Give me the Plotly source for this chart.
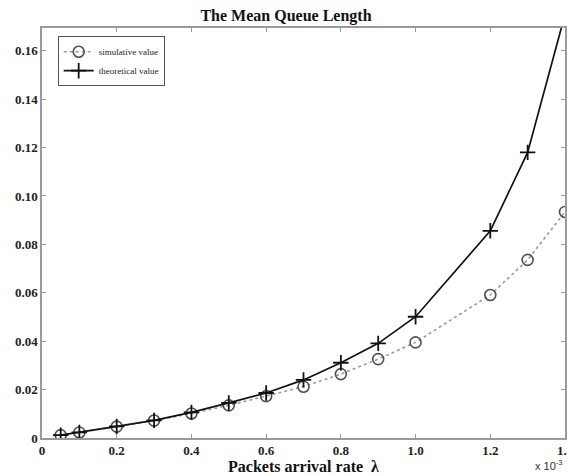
import plotly.graph_objects as go

# Data (arrival rate in units of 1e-3)
rate = [0.05, 0.1, 0.2, 0.3, 0.4, 0.5, 0.6, 0.7, 0.8, 0.9, 1.0, 1.2, 1.3, 1.4]
simulative = [0.0012, 0.0023, 0.0047, 0.0072, 0.0101, 0.0135, 0.0173, 0.0212, 0.0264, 0.0326, 0.0395, 0.0591, 0.0736, 0.0934]
theoretical = [0.0012, 0.0023, 0.0048, 0.0073, 0.0106, 0.0145, 0.0186, 0.0240, 0.0311, 0.0391, 0.0501, 0.0856, 0.1180, 0.1750]

x_ticks = [0, 0.2, 0.4, 0.6, 0.8, 1.0, 1.2, 1.4]
x_tick_labels = ["0", "0.2", "0.4", "0.6", "0.8", "1.0", "1.2", "1.4"]
y_ticks = [0, 0.02, 0.04, 0.06, 0.08, 0.10, 0.12, 0.14, 0.16]
y_tick_labels = ["0", "0.02", "0.04", "0.06", "0.08", "0.10", "0.12", "0.14", "0.16"]

FONT = "Liberation Serif, Times New Roman, serif"

fig = go.Figure()
fig.add_trace(go.Scatter(
    x=rate, y=simulative, name="simulative value", mode="lines+markers",
    line=dict(color="#9a9a9a", width=1.6, dash="dot"),
    marker=dict(symbol="circle-open", size=11, color="#505050", line=dict(width=1.6, color="#505050")),
))
fig.add_trace(go.Scatter(
    x=rate, y=theoretical, name="theoretical value", mode="lines+markers",
    line=dict(color="#111111", width=1.7),
    marker=dict(symbol="cross-thin-open", size=11, color="#111111", line=dict(width=1.8, color="#111111")),
))

axis_common = dict(
    showgrid=False, zeroline=False, showline=True, linecolor="#9a9a9a", linewidth=1.5,
    mirror="ticks", ticks="inside", ticklen=4, tickcolor="#9a9a9a",
    tickfont=dict(family=FONT, size=13, color="#222222", weight="bold"),
    ticklabeloverflow="allow", automargin=False,
)

fig.update_layout(
    width=567, height=475,
    margin=dict(l=42, r=2, t=28, b=37, autoexpand=False),
    paper_bgcolor="white", plot_bgcolor="white",
    title=dict(text="<b>The Mean Queue Length</b>", x=(286 - 42) / 523, xref="paper",
               y=0.968, yanchor="middle", xanchor="center",
               font=dict(family=FONT, size=16, color="#111111")),
    xaxis=dict(range=[0, 1.4], tickvals=x_ticks, ticktext=x_tick_labels,
               title=dict(text="<b>Packets arrival rate  λ</b>", standoff=1,
                          font=dict(family=FONT, size=16, color="#111111")),
               **axis_common),
    yaxis=dict(range=[0, 0.1694], tickvals=y_ticks, ticktext=y_tick_labels, **axis_common),
    legend=dict(x=0.03, y=0.98, xanchor="left", yanchor="top",
                bgcolor="white", bordercolor="#555555", borderwidth=1,
                font=dict(family=FONT, size=9, color="#222222"),
                itemwidth=30, tracegroupgap=0),
    showlegend=True,
)
fig.add_annotation(text="x 10<sup>-3</sup>", xref="paper", yref="paper", x=1.0, y=-0.066,
                   xanchor="right", yanchor="middle", showarrow=False,
                   font=dict(family="Liberation Sans, Arial, sans-serif", size=11, color="#333333"))

fig.write_html("out.html")
